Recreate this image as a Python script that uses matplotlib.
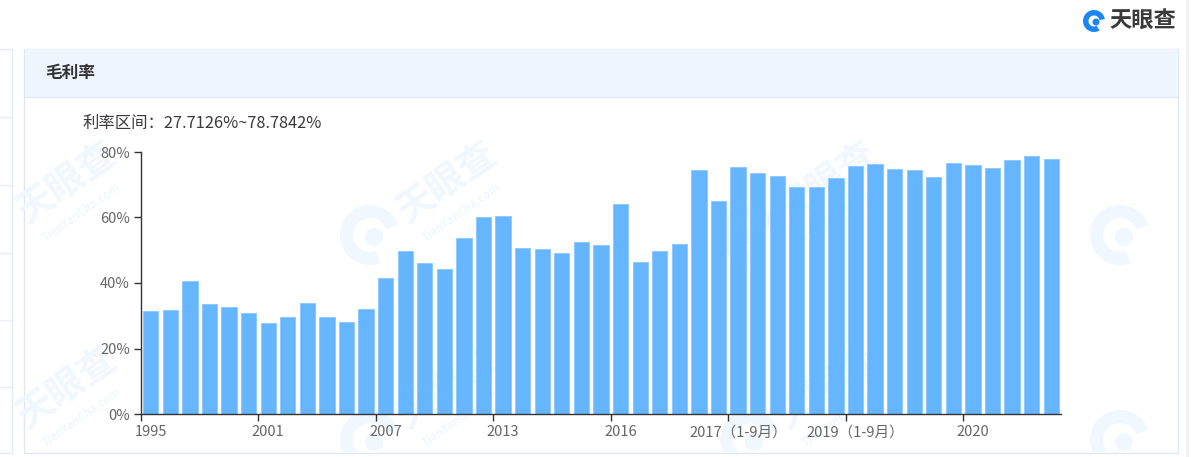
import matplotlib
matplotlib.use("Agg")
import matplotlib.pyplot as plt
from matplotlib.patches import Rectangle, Wedge, Circle
from matplotlib.ticker import FixedLocator, FuncFormatter

plt.rcParams['font.family'] = ['Noto Sans CJK SC', 'DejaVu Sans']

# categories (only every 6th one is labelled on the axis)
categories = ["1995", "1996", "1997", "1998", "1999", "2000",
              "2001", "2002", "2003", "2004", "2005", "2006",
              "2007", "2008", "2009", "2010", "2011", "2012",
              "2013", "2013（1-9月）", "2014", "2014（1-9月）", "2015", "2015（1-9月）",
              "2016", "2016（1-3月）", "2016（1-6月）", "2016（1-9月）", "2017（1-3月）", "2017（1-6月）",
              "2017（1-9月）", "2017", "2018（1-3月）", "2018（1-6月）", "2018（1-9月）", "2018",
              "2019（1-9月）", "2019", "2019（1-3月）", "2019（1-6月）", "2020（1-3月）", "2020（1-6月）",
              "2020", "2020（1-9月）", "2021（1-3月）", "2021（1-6月）", "2021（1-9月）"]
margin = [31.3, 31.8, 40.6, 33.5, 32.7, 30.9, 27.7126, 29.6, 33.9, 29.6,
          28.0, 32.1, 41.4, 49.7, 46.1, 44.2, 53.6, 60.3, 60.4, 50.7,
          50.4, 49.3, 52.4, 51.7, 64.2, 46.5, 49.9, 51.9, 74.6, 65.0,
          75.3, 73.5, 72.7, 69.4, 69.4, 72.1, 75.6, 76.2, 74.8, 74.5,
          72.4, 76.5, 75.9, 75.0, 77.7, 78.7842, 78.0]
y_ticks = [0, 20, 40, 60, 80]
label_every = 6

W, H = 1200, 457
fig = plt.figure(figsize=(W / 100, H / 100), dpi=100)
fig.patch.set_facecolor("white")

# background layer in pixel coordinates (panels, logo, watermark)
bg = fig.add_axes([0, 0, 1, 1], zorder=-2)
bg.set_xlim(0, W)
bg.set_ylim(H, 0)
bg.axis("off")

# left neighbour panel
bg.add_patch(Rectangle((-5, 49), 17, 404, facecolor="white", edgecolor="#e3ecf5", lw=1))
for yy in [117, 185, 253, 320, 387]:
    bg.plot([0, 12], [yy, yy], color="#e6eef6", lw=1)
# right gray strip
bg.add_patch(Rectangle((1186, 0), 3, H, facecolor="#f1f2f4", edgecolor="none"))

# main panel + header band
panel = Rectangle((24, 48.5), 1153.5, 404.5, facecolor="white", edgecolor="#dde8f3", lw=1)
bg.add_patch(panel)
bg.add_patch(Rectangle((24.5, 49), 1152.5, 47.5, facecolor="#eef5fc", edgecolor="none"))
bg.plot([24.5, 1177], [96.5, 96.5], color="#dde8f3", lw=1)

# watermark tiles, kept inside the panel body
clip = Rectangle((25, 97), 1152, 355, transform=bg.transData)
wm = "#f1f7fe"
for x0 in [-10, 370, 750, 1120]:
    for y0 in [235, 440]:
        arts = [bg.add_patch(Wedge((x0, y0), 30, 70, 340, width=13, facecolor=wm, edgecolor="none")),
                bg.add_patch(Circle((x0 + 4, y0 + 2), 9, facecolor=wm, edgecolor="none"))]
        if x0 + 78 < 1150:
            arts.append(bg.text(x0 + 78, y0 - 52, "天眼查", rotation=35, fontsize=27,
                                fontweight="bold", color=wm, ha="center", va="center"))
            arts.append(bg.text(x0 + 92, y0 - 22, "TianYanCha.com", rotation=35, fontsize=8,
                                color=wm, ha="center", va="center", fontweight="bold"))
        for a in arts:
            a.set_clip_path(clip)

# top right brand logo
bg.add_patch(Wedge((1094, 21), 11, 60, 350, width=5.5, facecolor="#1b86f3", edgecolor="none"))
bg.add_patch(Circle((1096, 22), 3.5, facecolor="#1b86f3", edgecolor="none"))
bg.text(1109, 21, "天眼查", fontsize=16, fontweight="bold", color="#3a3a3a",
        ha="left", va="center")

# titles
bg.text(45, 73, "毛利率", fontsize=12, fontweight="bold", color="#333333",
        ha="left", va="center")
bg.text(83, 123, "利率区间：27.7126%~78.7842%", fontsize=11.8, color="#3a3a3a",
        ha="left", va="center")

# chart
ax = fig.add_axes([141 / W, (H - 414) / H, 920 / W, 262 / H])
ax.patch.set_alpha(0)
x = list(range(len(margin)))
ax.bar(x, margin, width=0.78, color="#66b5ff", edgecolor="#8ac7ff", linewidth=0.6, zorder=2)
ax.set_xlim(-0.5, len(margin) - 0.5)
ax.set_ylim(0, 80)

for s in ["top", "right"]:
    ax.spines[s].set_visible(False)
for s in ["left", "bottom"]:
    ax.spines[s].set_color("#333333")
    ax.spines[s].set_linewidth(1)

ax.set_yticks(y_ticks)
ax.yaxis.set_major_formatter(FuncFormatter(lambda v, p: f"{v:.0f}%"))
ax.tick_params(axis="y", length=5, width=1, color="#333333", labelcolor="#666666",
               labelsize=10.5, pad=3)

idx = list(range(0, len(margin), label_every))
ax.xaxis.set_major_locator(FixedLocator([i - 0.5 for i in idx]))
ax.xaxis.set_major_formatter(FuncFormatter(lambda v, p: ""))
ax.xaxis.set_minor_locator(FixedLocator(idx))
ax.set_xticklabels([categories[i] for i in idx], minor=True)
ax.tick_params(axis="x", which="major", length=5, width=1, color="#333333")
ax.tick_params(axis="x", which="minor", length=0, labelcolor="#666666",
               labelsize=10.5, pad=8)

fig.savefig("out.png", dpi=100)
